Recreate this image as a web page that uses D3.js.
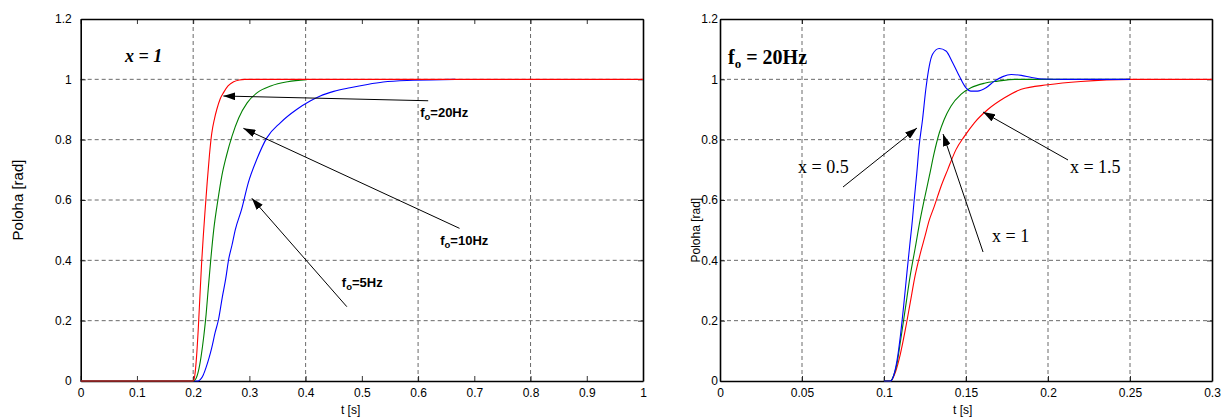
<!doctype html>
<html lang="cs">
<head>
<meta charset="UTF-8" />
<title>Poloha</title>
<script src="https://cdn.jsdelivr.net/npm/d3@7"></script>
<style>
  body { margin: 0; background: #fff; }
  svg { display: block; font-family: "Liberation Sans", Arial, sans-serif; }
  .tick text { font-size: 12px; fill: #000; }
  .grid line { stroke: #444; stroke-dasharray: 4,3; stroke-width: 0.8; }
</style>
</head>
<body>
<div id="chart"></div>
<script>
// left panel: x = 1, three natural frequencies
const left20 = [[0,0],[0.2,0],[0.203,0.02],[0.206,0.08],[0.209,0.17],[0.212,0.28],[0.215,0.39],[0.218,0.48],[0.221,0.56],[0.225,0.66],[0.229,0.75],[0.233,0.82],[0.238,0.87],[0.242,0.9],[0.248,0.935],[0.254,0.956],[0.262,0.978],[0.272,0.992],[0.282,0.998],[0.292,1],[1,1]];
const left10 = [[0,0],[0.2,0],[0.204,0.005],[0.209,0.03],[0.214,0.08],[0.219,0.15],[0.223,0.22],[0.227,0.31],[0.2312,0.4],[0.2365,0.5],[0.244,0.6],[0.251,0.68],[0.259,0.745],[0.269,0.811],[0.281,0.872],[0.296,0.922],[0.314,0.956],[0.338,0.978],[0.368,0.992],[0.402,0.999]];
const left5 = [[0,0],[0.209,0],[0.213,0.005],[0.218,0.02],[0.223,0.045],[0.228,0.075],[0.233,0.11],[0.239,0.16],[0.245,0.203],[0.252,0.28],[0.258,0.34],[0.263,0.402],[0.269,0.45],[0.275,0.502],[0.286,0.568],[0.298,0.657],[0.313,0.734],[0.331,0.806],[0.355,0.856],[0.384,0.9],[0.408,0.928],[0.426,0.945],[0.45,0.96],[0.479,0.972],[0.51,0.983],[0.538,0.991],[0.591,0.997],[0.666,1]];

// right panel: fo = 20Hz, three damping ratios
const right05 = [[0.1,0],[0.104,0],[0.106,0.02],[0.108,0.07],[0.11,0.15],[0.112,0.25],[0.114,0.36],[0.1157,0.45],[0.1173,0.533],[0.1184,0.6],[0.12,0.689],[0.1214,0.778],[0.1235,0.867],[0.1255,0.967],[0.1276,1.044],[0.1296,1.083],[0.1337,1.102],[0.1378,1.094],[0.1418,1.056],[0.1459,1.011],[0.15,0.972],[0.153,0.961],[0.157,0.961],[0.1622,0.972],[0.1673,0.994],[0.1724,1.009],[0.1776,1.016],[0.1837,1.013],[0.19,1.006],[0.197,1.001],[0.21,1],[0.25,1]];
const right1 = [[0.1,0],[0.104,0],[0.106,0.02],[0.108,0.06],[0.11,0.13],[0.113,0.24],[0.116,0.35],[0.119,0.44],[0.122,0.533],[0.1245,0.6],[0.1276,0.678],[0.1306,0.756],[0.1337,0.822],[0.1367,0.867],[0.1408,0.911],[0.1469,0.95],[0.153,0.972],[0.1612,0.987],[0.1694,0.994],[0.1796,1],[0.25,1]];
const right15 = [[0.1,0],[0.104,0],[0.107,0.03],[0.11,0.09],[0.113,0.17],[0.116,0.26],[0.119,0.35],[0.122,0.42],[0.125,0.48],[0.1276,0.533],[0.1306,0.578],[0.1347,0.644],[0.1388,0.7],[0.1439,0.767],[0.149,0.811],[0.1551,0.856],[0.1633,0.9],[0.1735,0.939],[0.1837,0.967],[0.2,0.982],[0.22,0.993],[0.25,1],[0.3,1]];

const leftXTicks = [0,0.1,0.2,0.3,0.4,0.5,0.6,0.7,0.8,0.9,1];
const leftXGrid = [0.2,0.4,0.6,0.8];
const rightXTicks = [0,0.05,0.1,0.15,0.2,0.25,0.3];
const yTicks = [0,0.2,0.4,0.6,0.8,1,1.2];

// annotations: [label, textT, textV, tailT, tailV, headT, headV]
const leftNotes = [
  ["20Hz", 0.6037, 0.875, 0.618, 0.929, 0.2537, 0.9447],
  ["10Hz", 0.6393, 0.451, 0.6737, 0.506, 0.2893, 0.8376],
  ["5Hz", 0.4644, 0.3116, 0.4733, 0.2463, 0.3043, 0.6056]
];
const rightNotes = [
  ["x = 0.5", 0.0476, 0.689, 0.075, 0.643, 0.1201, 0.8386],
  ["x = 1", 0.1659, 0.4607, 0.1604, 0.4276, 0.136, 0.8187],
  ["x = 1.5", 0.2134, 0.689, 0.2122, 0.7326, 0.1604, 0.8916]
];

const width = 1229, height = 418;
const svg = d3.select("#chart").append("svg")
  .attr("width", width).attr("height", height);

svg.append("defs").append("marker")
  .attr("id", "arrow")
  .attr("viewBox", "0 0 12 8")
  .attr("refX", 12).attr("refY", 4)
  .attr("markerWidth", 12).attr("markerHeight", 8)
  .attr("markerUnits", "userSpaceOnUse")
  .attr("orient", "auto")
  .append("path").attr("d", "M0,0L12,4L0,8Z").attr("fill", "#000");

function panel(x0, x1, xMax, xTicks, xGrid, fmt, yPad) {
  const x = d3.scaleLinear().domain([0, xMax]).range([x0, x1]);
  const y = d3.scaleLinear().domain([0, 1.2]).range([381, 19]);
  const g = svg.append("g");

  // grid
  const grid = g.append("g").attr("class", "grid");
  grid.selectAll(".gx").data(xGrid).join("line")
    .attr("x1", d => x(d)).attr("x2", d => x(d))
    .attr("y1", y(0)).attr("y2", y(1.2));
  grid.selectAll(".gy").data(yTicks.slice(1, -1)).join("line")
    .attr("x1", x0).attr("x2", x1)
    .attr("y1", d => y(d)).attr("y2", d => y(d));

  // axes with inward ticks
  g.append("g").attr("transform", `translate(0,${y(0)})`)
    .call(d3.axisBottom(x).tickValues(xTicks).tickFormat(fmt).tickSizeInner(-5).tickSizeOuter(0).tickPadding(7));
  g.append("g").attr("transform", `translate(0,${y(1.2)})`)
    .call(d3.axisTop(x).tickValues(xTicks).tickFormat("").tickSizeInner(-5).tickSizeOuter(0));
  g.append("g").attr("transform", `translate(${x0},0)`)
    .call(d3.axisLeft(y).tickValues(yTicks).tickFormat(d3.format("~g")).tickSizeInner(-5).tickSizeOuter(0).tickPadding(yPad));
  g.append("g").attr("transform", `translate(${x1},0)`)
    .call(d3.axisRight(y).tickValues(yTicks).tickFormat("").tickSizeInner(-5).tickSizeOuter(0));
  g.selectAll(".domain").attr("stroke-width", 1.6);
  g.selectAll(".tick line").attr("stroke-width", 0.8);

  return { x, y, g };
}

const L = panel(80.7, 643, 1, leftXTicks, leftXGrid, d3.format("~g"), 9);
const R = panel(720, 1212, 0.3, rightXTicks, rightXTicks.slice(1, -1), d3.format("~g"), 2);

function curve(p, data, color) {
  const line = d3.line().x(d => p.x(d[0])).y(d => p.y(d[1])).curve(d3.curveMonotoneX);
  p.g.append("path").datum(data)
    .attr("d", line).attr("fill", "none")
    .attr("stroke", color).attr("stroke-width", 1.1);
}

curve(L, left5, "#0000ff");
curve(L, left10, "#008000");
curve(L, left20, "#ff0000");
curve(R, right15, "#ff0000");
curve(R, right1, "#008000");
curve(R, right05, "#0000ff");

// arrows
function arrows(p, notes) {
  p.g.selectAll(null).data(notes).join("line")
    .attr("x1", d => p.x(d[3])).attr("y1", d => p.y(d[4]))
    .attr("x2", d => p.x(d[5])).attr("y2", d => p.y(d[6]))
    .attr("stroke", "#000").attr("stroke-width", 1)
    .attr("marker-end", "url(#arrow)");
}
arrows(L, leftNotes);
arrows(R, rightNotes);

// left labels f_o=..Hz
const lt = L.g.selectAll(null).data(leftNotes).join("text")
  .attr("x", d => L.x(d[1])).attr("y", d => L.y(d[2]))
  .attr("font-size", 13).attr("font-weight", "bold");
lt.append("tspan").text("f");
lt.append("tspan").attr("font-size", 9.5).attr("dy", 3).text("o");
lt.append("tspan").attr("dy", -3).text(d => "=" + d[0]);

R.g.selectAll(null).data(rightNotes).join("text")
  .attr("x", d => R.x(d[1])).attr("y", d => R.y(d[2]))
  .attr("font-family", "'Liberation Serif', 'Times New Roman', serif")
  .attr("font-size", 18)
  .text(d => d[0]);

// panel titles
L.g.append("text")
  .attr("x", L.x(0.0788)).attr("y", L.y(1.057))
  .attr("font-family", "'Liberation Serif', 'Times New Roman', serif")
  .attr("font-size", 18).attr("font-weight", "bold").attr("font-style", "italic")
  .text("x = 1");

const rt = R.g.append("text")
  .attr("x", R.x(0.0049)).attr("y", R.y(1.051))
  .attr("font-family", "'Liberation Serif', 'Times New Roman', serif")
  .attr("font-size", 20).attr("font-weight", "bold");
rt.append("tspan").text("f");
rt.append("tspan").attr("font-size", 13).attr("dy", 4).text("o");
rt.append("tspan").attr("dy", -4).text(" = 20Hz");

// axis titles
L.g.append("text")
  .attr("transform", `translate(23,${L.y(0.6)}) rotate(-90)`)
  .attr("text-anchor", "middle").attr("font-size", 15)
  .text("Poloha [rad]");
L.g.append("text")
  .attr("x", L.x(0.48)).attr("y", 414)
  .attr("text-anchor", "middle").attr("font-size", 12)
  .text("t [s]");

R.g.append("text")
  .attr("transform", `translate(700,${R.y(0.5)}) rotate(-90)`)
  .attr("text-anchor", "middle").attr("font-size", 12)
  .text("Poloha [rad]");
R.g.append("text")
  .attr("x", R.x(0.148)).attr("y", 414)
  .attr("text-anchor", "middle").attr("font-size", 12)
  .text("t [s]");
</script>
</body>
</html>
